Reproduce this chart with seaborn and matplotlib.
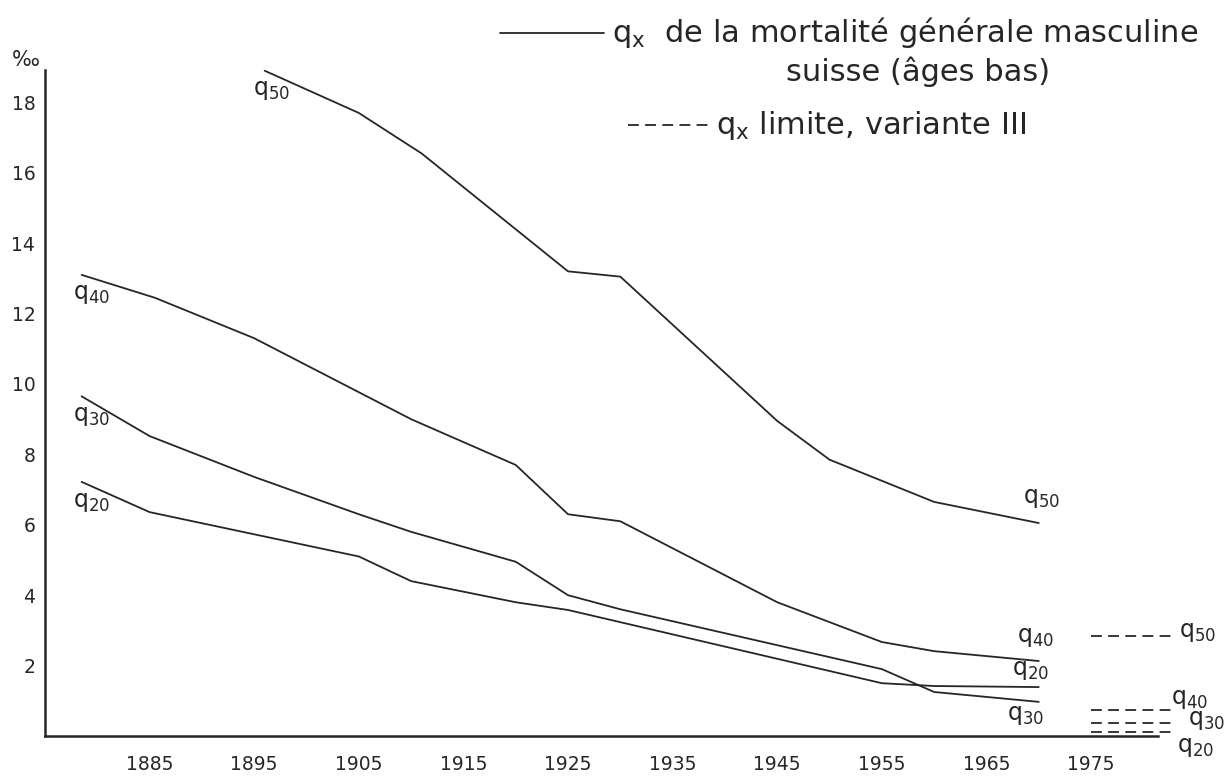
import numpy as np
import pandas as pd
import seaborn as sns
import matplotlib.pyplot as plt
from matplotlib.lines import Line2D

# --------------------------
# Data (per mille)
# --------------------------
years_q50 = [1896, 1905, 1911, 1925, 1930, 1945, 1950, 1960, 1970]
q50 = [18.9, 17.7, 16.55, 13.2, 13.05, 8.95, 7.85, 6.65, 6.05]

years_q40 = [1878.5, 1885.5, 1895, 1910, 1920, 1925, 1930, 1945, 1955, 1960, 1970]
q40 = [13.1, 12.45, 11.3, 9.0, 7.7, 6.3, 6.1, 3.8, 2.67, 2.41, 2.13]

years_q30 = [1878.5, 1885, 1895, 1905, 1910, 1920, 1925, 1930, 1955, 1960, 1970]
q30 = [9.65, 8.52, 7.36, 6.3, 5.8, 4.95, 4.0, 3.6, 1.9, 1.25, 0.97]

years_q20 = [1878.5, 1885, 1905, 1910, 1920, 1925, 1955, 1960, 1970]
q20 = [7.22, 6.36, 5.1, 4.4, 3.8, 3.58, 1.5, 1.42, 1.39]

# limit values, variante III
limit_years = [1975, 1983]
limit_names = ["q50", "q40", "q30", "q20"]
limit_values = [2.85, 0.75, 0.36, 0.12]

xticks = [1885, 1895, 1905, 1915, 1925, 1935, 1945, 1955, 1965, 1975]
yticks = [2, 4, 6, 8, 10, 12, 14, 16, 18]

# --------------------------
# Long tables for seaborn
# --------------------------
obs = pd.concat([
    pd.DataFrame({"year": years_q50, "q": q50, "serie": "q50"}),
    pd.DataFrame({"year": years_q40, "q": q40, "serie": "q40"}),
    pd.DataFrame({"year": years_q30, "q": q30, "serie": "q30"}),
    pd.DataFrame({"year": years_q20, "q": q20, "serie": "q20"}),
])
lim = pd.DataFrame({
    "year": limit_years * len(limit_names),
    "q": np.repeat(limit_values, len(limit_years)),
    "serie": np.repeat(limit_names, len(limit_years)),
})

# --------------------------
# Figure
# --------------------------
sns.set_style("white")
plt.rcParams["font.family"] = ["DejaVu Sans"]
ink = "#262626"
dash = (0, (6, 3.5))

W, H = 1227, 783
fig = plt.figure(figsize=(W / 100, H / 100), dpi=100)
# axes: left spine at x=45px, x axis at y=736px
ax = fig.add_axes([45 / W, (H - 736) / H, (1158 - 45) / W, (736 - 70) / H])

for name, grp in obs.groupby("serie"):
    sns.lineplot(data=grp, x="year", y="q", color=ink, lw=1.3,
                 estimator=None, sort=False, ax=ax)
for name, grp in lim.groupby("serie"):
    sns.lineplot(data=grp, x="year", y="q", color=ink, lw=1.3,
                 linestyle=dash, estimator=None, sort=False,
                 clip_on=False, ax=ax)

ax.set_xlim(1875, 1981.4)
ax.set_ylim(0, 18.92)
ax.set_xticks(xticks)
ax.set_yticks(yticks)
ax.set_xlabel("")
ax.set_ylabel("")
sns.despine(ax=ax)
for s in ["left", "bottom"]:
    ax.spines[s].set_linewidth(1.8)
    ax.spines[s].set_color(ink)
ax.tick_params(axis="x", direction="out", length=6, width=1.3, colors=ink,
               labelsize=13.5, pad=8)
ax.tick_params(axis="y", direction="out", length=4, width=1.3, colors=ink,
               labelsize=13.5, pad=3)

# series labels
def qlabel(x, y, sub):
    ax.text(x, y, r"$\mathregular{q_{%s}}$" % sub, fontsize=17, color=ink,
            ha="left", va="center", clip_on=False)

qlabel(1894.9, 18.35, "50")
qlabel(1877.7, 12.55, "40")
qlabel(1877.7, 9.1, "30")
qlabel(1877.7, 6.65, "20")
qlabel(1968.5, 6.75, "50")
qlabel(1967.9, 2.8, "40")
qlabel(1967.4, 1.88, "20")
qlabel(1967.0, 0.6, "30")
qlabel(1983.4, 2.95, "50")
qlabel(1982.6, 1.05, "40")
qlabel(1984.3, 0.45, "30")
qlabel(1983.2, -0.3, "20")

# per mille sign
fig.text(12 / W, 1 - 60 / H, "‰", fontsize=15, color=ink, va="center")

# legend drawn by hand
fig.add_artist(Line2D([500 / W, 604 / W], [1 - 33 / H, 1 - 33 / H],
                      color=ink, lw=1.3))
fig.text(612 / W, 1 - 33 / H,
         r"$\mathregular{q_x}$  de la mortalité générale masculine",
         fontsize=22, color=ink, va="center", ha="left")
fig.text(918 / W, 1 - 72 / H, "suisse (âges bas)", fontsize=22, color=ink,
         va="center", ha="center")
fig.add_artist(Line2D([628 / W, 708 / W], [1 - 125 / H, 1 - 125 / H],
                      color=ink, lw=1.3, linestyle=dash))
fig.text(716 / W, 1 - 125 / H, r"$\mathregular{q_x}$ limite, variante III",
         fontsize=22, color=ink, va="center", ha="left")

fig.savefig("out.png", dpi=100)
